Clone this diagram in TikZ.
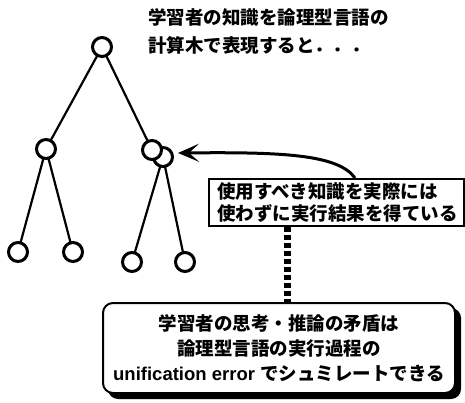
\documentclass[tikz,border=0pt]{standalone}
\usepackage{fontspec}
\usetikzlibrary{arrows.meta}
\newfontfamily\jp{Noto Sans CJK JP Black}
\newfontfamily\lat{Liberation Sans}[BoldFont={Liberation Sans Bold}]
\begin{document}
\begin{tikzpicture}[x=1pt,y=-1pt,
  tnode/.style={circle,draw,line width=3pt,fill=white,minimum size=19pt,inner sep=0pt},
  tedge/.style={line width=2.2pt}]
\useasboundingbox (0,0) rectangle (465,403);
% title
\node[anchor=west,align=left,inner sep=0pt,font=\jp\fontsize{18.5}{28}\selectfont] (title) at (148,31)
  {学習者の知識を論理型言語の\\計算木で表現すると．．．};
% tree
\coordinate (r) at (102,47);
\coordinate (ml) at (46,149);
\coordinate (mr) at (152,150);
\coordinate (mb) at (163,157);
\coordinate (l1) at (18,252);
\coordinate (l2) at (73,252);
\coordinate (l3) at (132,262);
\coordinate (l4) at (185,262);
\draw[tedge] (r) -- (ml);
\draw[tedge] (r) -- (mr);
\draw[tedge] (ml) -- (l1);
\draw[tedge] (ml) -- (l2);
\draw[tedge] (mb) -- (l3);
\draw[tedge] (mb) -- (l4);
\node[tnode] (nr) at (r) {};
\node[tnode] (nml) at (ml) {};
\node[tnode] (nmb) at (mb) {};
\node[tnode] (nmr) at (mr) {};
\node[tnode] (nl1) at (l1) {};
\node[tnode] (nl2) at (l2) {};
\node[tnode] (nl3) at (l3) {};
\node[tnode] (nl4) at (l4) {};
% box 1
\node[draw,line width=2pt,anchor=north west,minimum height=47pt,text width=239pt,
  inner xsep=8pt,inner ysep=0pt,align=left,font=\jp\fontsize{18.5}{22}\selectfont] (b1) at (208,178)
  {使用すべき知識を実際には\\使わずに実行結果を得ている};
\coordinate (tip) at (178,153);
\draw[line width=3pt,-{Stealth[length=21pt,width=18pt,inset=10pt]}]
  (b1.north west -| 355,0) .. controls (338,154) and (280,152) .. (tip);
% dashed connector
\coordinate (d1) at (b1.south west -| 287,0);
% box 2 shadow
\fill[rounded corners=10pt] (108,308) rectangle (461,399);
\node[draw,fill=white,line width=2pt,rounded corners=10pt,minimum width=352pt,minimum height=90pt,
  align=center,inner sep=0pt,font=\jp\fontsize{18.5}{25}\selectfont] (b2) at (279,348)
  {学習者の思考・推論の矛盾は\\論理型言語の実行過程の\\{\lat\bfseries unification error }でシュミレートできる};
\draw[line width=7pt,dash pattern=on 5pt off 3pt] (d1) -- (b2.north -| d1);
\end{tikzpicture}
\end{document}
